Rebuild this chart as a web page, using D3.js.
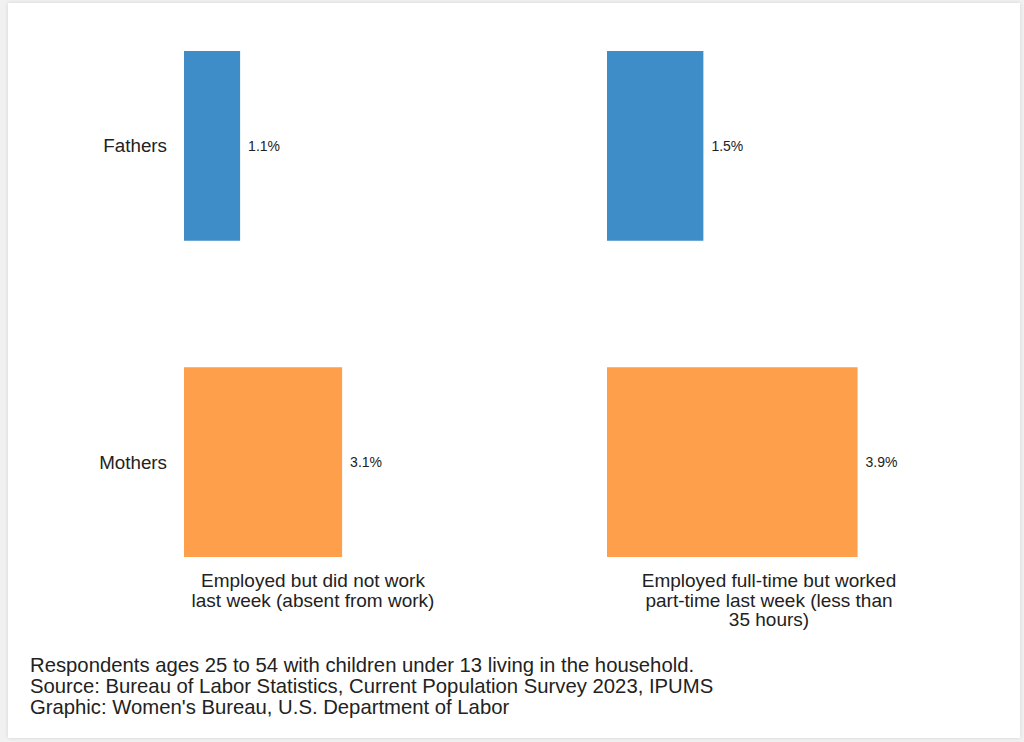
<!DOCTYPE html>
<html>
<head>
<meta charset="utf-8">
<script src="https://cdn.jsdelivr.net/npm/d3@7"></script>
<style>
  body { margin:0; background:#f1f1f1; font-family:"Liberation Sans", Arial, sans-serif; }
  #card { position:absolute; left:8px; top:3px; width:1012px; height:735px; background:#fff;
          box-shadow:0 0 4px rgba(0,0,0,0.12); }
  svg { position:absolute; left:0; top:0; }
</style>
</head>
<body>
<div id="card"></div>
<svg width="1024" height="742"></svg>
<script>
// data
var groups = ["Fathers", "Mothers"];
var panelLines = [["Employed but did not work", "last week (absent from work)"],
                  ["Employed full-time but worked", "part-time last week (less than", "35 hours)"]];
var absentValues = [1.1, 3.1];
var partTimeValues = [1.5, 3.9];
var groupColors = ["#3f8dc8", "#fe9f4b"];
var notes = ["Respondents ages 25 to 54 with children under 13 living in the household.",
             "Source: Bureau of Labor Statistics, Current Population Survey 2023, IPUMS",
             "Graphic: Women's Bureau, U.S. Department of Labor"];

var svg = d3.select('svg');

var yScale = d3.scaleBand()
               .domain(groups)
               .range([51, 557])
               .paddingInner(0.4)
               .paddingOuter(0);

// free x scales per panel
var xScales = [
  d3.scaleLinear().domain([0, 4]).range([184, 388]),
  d3.scaleLinear().domain([0, 4]).range([607, 864])
];
var allValues = [absentValues, partTimeValues];

panelLines.forEach(function(lines, pi)
{
  var x = xScales[pi];
  var g = svg.append('g').classed('panel', true);
  var rows = groups.map(function(name, i){ return {group:name, value:allValues[pi][i], i:i}; });

  g.selectAll('rect')
    .data(rows)
    .enter()
    .append('rect')
    .attr('x', x(0))
    .attr('y', function(d){ return yScale(d.group); })
    .attr('width', function(d){ return x(d.value) - x(0); })
    .attr('height', yScale.bandwidth())
    .attr('fill', function(d){ return groupColors[d.i]; });

  g.selectAll('text.val')
    .data(rows)
    .enter()
    .append('text')
    .classed('val', true)
    .attr('x', function(d){ return x(d.value) + 8; })
    .attr('y', function(d){ return yScale(d.group) + yScale.bandwidth()/2; })
    .attr('dy', '0.35em')
    .attr('font-size', 14)
    .attr('fill', '#222')
    .text(function(d){ return d.value.toFixed(1) + '%'; });

  var cx = pi == 0 ? 313 : 769;
  g.selectAll('text.lbl')
    .data(lines)
    .enter()
    .append('text')
    .classed('lbl', true)
    .attr('x', cx)
    .attr('y', function(d, i){ return 587 + i*19.5; })
    .attr('text-anchor', 'middle')
    .attr('font-size', 19)
    .attr('fill', '#222')
    .text(function(d){ return d; });
});

// row labels
svg.selectAll('text.grp')
  .data(groups)
  .enter()
  .append('text')
  .classed('grp', true)
  .attr('x', 167)
  .attr('y', function(d){ return yScale(d) + yScale.bandwidth()/2; })
  .attr('dy', '0.35em')
  .attr('text-anchor', 'end')
  .attr('font-size', 18.8)
  .attr('fill', '#222')
  .text(function(d){ return d; });

svg.selectAll('text.note')
  .data(notes)
  .enter()
  .append('text')
  .classed('note', true)
  .attr('x', 30)
  .attr('y', function(d, i){ return 672 + i*21; })
  .attr('font-size', 20.3)
  .attr('fill', '#222')
  .text(function(d){ return d; });
</script>
</body>
</html>
